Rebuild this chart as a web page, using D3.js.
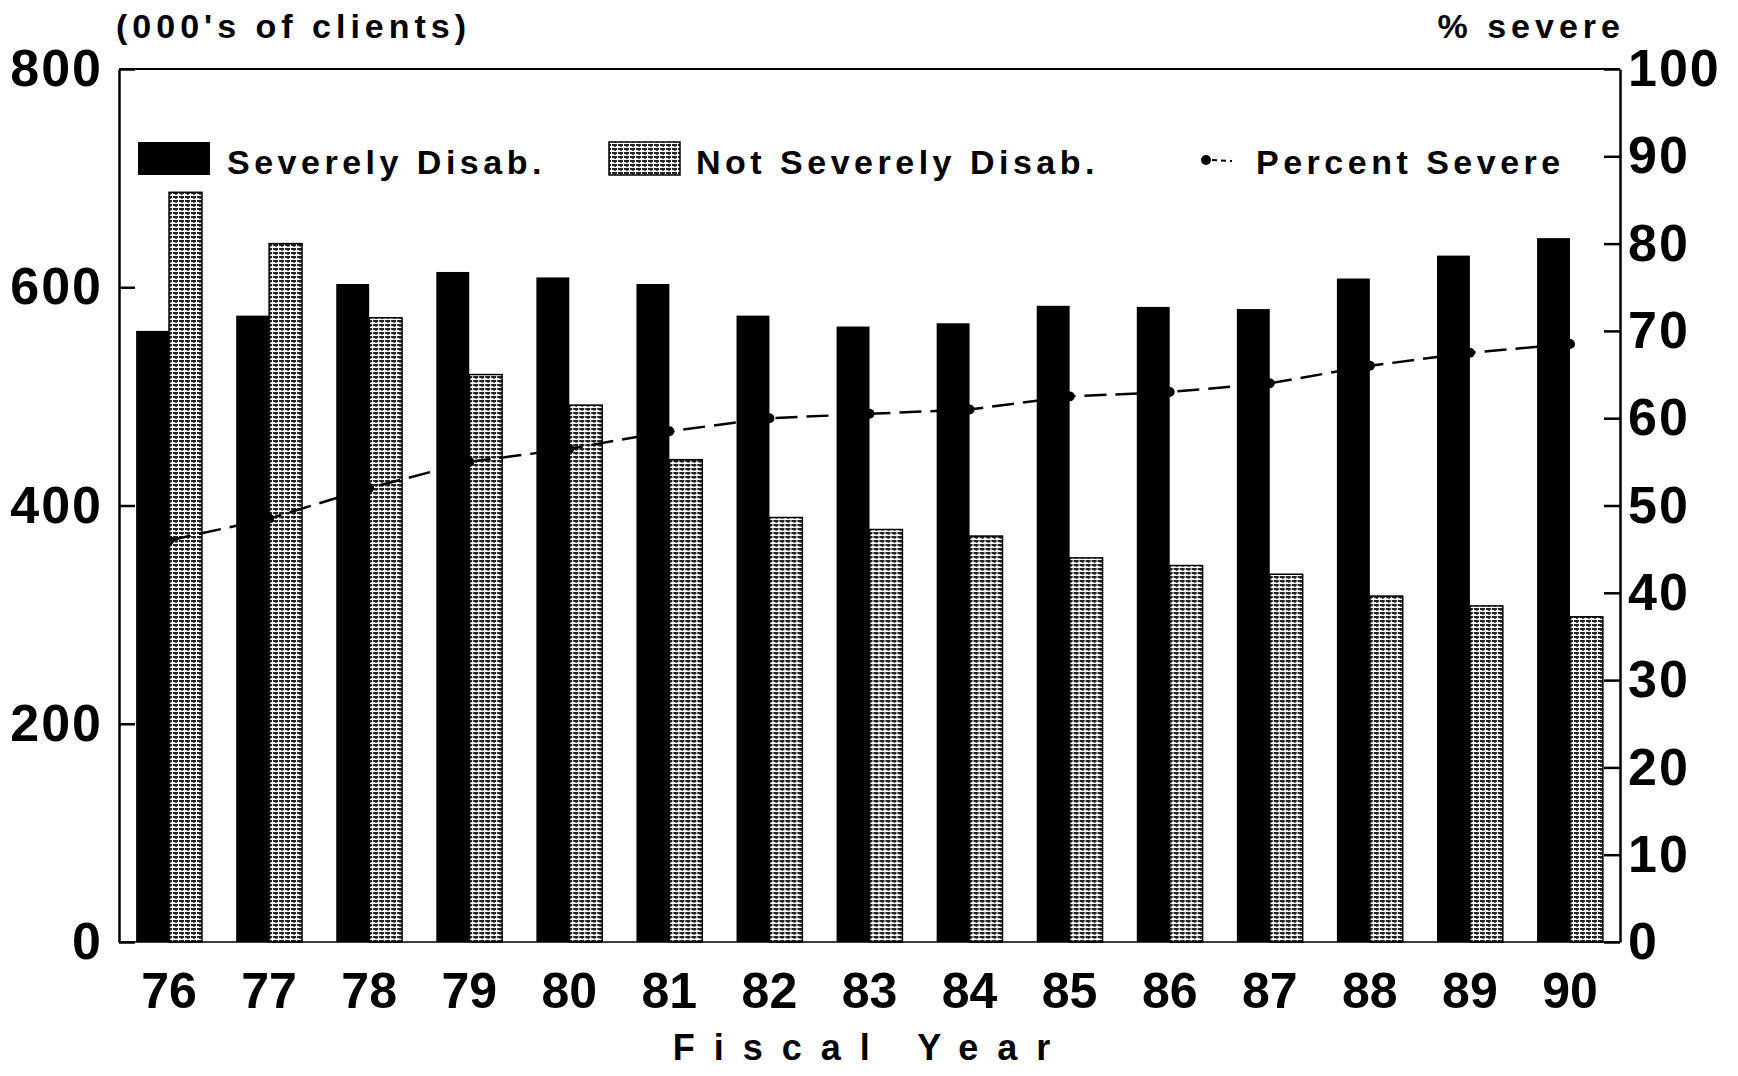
<!DOCTYPE html>
<html>
<head>
<meta charset="utf-8">
<script src="https://cdn.jsdelivr.net/npm/d3@7"></script>
<style>
  body { margin: 0; background: #fff; }
  text { font-family: "Liberation Sans", Arial, sans-serif; font-weight: bold; fill: #000; }
</style>
</head>
<body>
<svg width="1738" height="1076"></svg>
<script>
// Data
const years = ["76", "77", "78", "79", "80", "81", "82", "83", "84", "85", "86", "87", "88", "89", "90"];
const severe = [560, 574, 603, 614, 609, 603, 574, 564, 567, 583, 582, 580, 608, 629, 645];
const notSevere = [687, 640, 572, 520, 492, 442, 389, 378, 372, 352, 345, 337, 317, 308, 298];
const pctSevere = [46, 48.5, 52, 55, 56.5, 58.5, 60, 60.5, 61, 62.5, 63, 64, 66, 67.5, 68.5];
const leftTicks = [0, 200, 400, 600, 800];
const rightTicks = [0, 10, 20, 30, 40, 50, 60, 70, 80, 90, 100];
const series = ["sev", "not"];

const svg = d3.select("svg");
const margin = { left: 119, right: 1620, top: 69, bottom: 942 };

// hatch pattern for "not severely"
const defs = svg.append("defs");
const pat = defs
  .append("pattern")
  .attr("id", "hatch")
  .attr("patternUnits", "userSpaceOnUse")
  .attr("width", 6)
  .attr("height", 4);
pat.append("rect").attr("width", 6).attr("height", 4).attr("fill", "#fff");
pat.append("rect").attr("x", 0).attr("y", 0).attr("width", 5).attr("height", 2).attr("fill", "#222");
pat.append("rect").attr("x", 2).attr("y", 2).attr("width", 2).attr("height", 1).attr("fill", "#555");

const x = d3.scaleBand().domain(years).range([margin.left, margin.right]).padding(0);
const xs = d3.scaleBand().domain(series).range([0, x.bandwidth()]).paddingInner(0).paddingOuter(0.52);
const yL = d3.scaleLinear().domain([0, 800]).range([margin.bottom, margin.top]);
const yR = d3.scaleLinear().domain([0, 100]).range([margin.bottom, margin.top]);

// Bars
const groups = svg
  .append("g")
  .selectAll("g")
  .data(years)
  .enter()
  .append("g")
  .attr("transform", (d) => `translate(${x(d)},0)`);

groups
  .append("rect")
  .attr("x", xs("sev"))
  .attr("y", (d, i) => yL(severe[i]))
  .attr("width", xs.bandwidth())
  .attr("height", (d, i) => yL(0) - yL(severe[i]))
  .attr("fill", "#000");

groups
  .append("rect")
  .attr("x", xs("not"))
  .attr("y", (d, i) => yL(notSevere[i]))
  .attr("width", xs.bandwidth())
  .attr("height", (d, i) => yL(0) - yL(notSevere[i]))
  .attr("fill", "url(#hatch)")
  .attr("stroke", "#000")
  .attr("stroke-width", 1.5);

// Percent severe line
const line = d3
  .line()
  .x((d, i) => x(years[i]) + x.bandwidth() / 2)
  .y((d) => yR(d));

svg
  .append("path")
  .datum(pctSevere)
  .attr("d", line)
  .attr("fill", "none")
  .attr("stroke", "#000")
  .attr("stroke-width", 2.5)
  .attr("stroke-dasharray", "22,9");

svg
  .append("g")
  .selectAll("circle")
  .data(pctSevere)
  .enter()
  .append("circle")
  .attr("cx", (d, i) => x(years[i]) + x.bandwidth() / 2)
  .attr("cy", (d) => yR(d))
  .attr("r", 5)
  .attr("fill", "#000");

// Frame
svg
  .append("line")
  .attr("x1", margin.left).attr("x2", margin.right)
  .attr("y1", margin.top).attr("y2", margin.top)
  .attr("stroke", "#000").attr("stroke-width", 2);
svg
  .append("line")
  .attr("x1", margin.left).attr("x2", margin.right)
  .attr("y1", margin.bottom).attr("y2", margin.bottom)
  .attr("stroke", "#000").attr("stroke-width", 1.5);

// Axes
const leftAxis = d3.axisLeft(yL).tickValues(leftTicks).tickSizeInner(-16).tickSizeOuter(0).tickPadding(16);
const gL = svg.append("g").attr("transform", `translate(${margin.left},0)`).call(leftAxis);
const rightAxis = d3.axisRight(yR).tickValues(rightTicks).tickSizeInner(-16).tickSizeOuter(0).tickPadding(8);
const gR = svg.append("g").attr("transform", `translate(${margin.right},0)`).call(rightAxis);

[gL, gR].forEach((g) => {
  g.select(".domain").attr("stroke", "#000").attr("stroke-width", 2.5);
  g.selectAll(".tick line").attr("stroke", "#000").attr("stroke-width", 2.5);
  g.selectAll(".tick text")
    .attr("font-size", 52)
    .attr("letter-spacing", 2)
    .attr("font-family", "Liberation Sans, Arial, sans-serif")
    .attr("font-weight", "bold")
    .attr("fill", "#000");
});

// X labels
svg
  .append("g")
  .selectAll("text")
  .data(years)
  .enter()
  .append("text")
  .attr("x", (d) => x(d) + x.bandwidth() / 2)
  .attr("y", 1008)
  .attr("text-anchor", "middle")
  .attr("font-size", 50)
  .text((d) => d);

svg
  .append("text")
  .attr("x", 871)
  .attr("y", 1060)
  .attr("text-anchor", "middle")
  .attr("font-size", 36)
  .attr("letter-spacing", 19)
  .text("Fiscal Year");

// Axis titles
svg
  .append("text")
  .attr("x", 116)
  .attr("y", 38)
  .attr("font-size", 34)
  .attr("letter-spacing", 5)
  .text("(000's of clients)");

svg
  .append("text")
  .attr("x", 1625)
  .attr("y", 38)
  .attr("text-anchor", "end")
  .attr("font-size", 34)
  .attr("letter-spacing", 5)
  .text("% severe");

// Legend
const legend = svg.append("g").attr("id", "legend");
legend.append("rect").attr("x", 138).attr("y", 142).attr("width", 72).attr("height", 33).attr("fill", "#000");
legend.append("text").attr("x", 227).attr("y", 174).attr("font-size", 34).attr("letter-spacing", 4.5).text("Severely Disab.");
legend
  .append("rect")
  .attr("x", 609).attr("y", 142).attr("width", 71).attr("height", 33)
  .attr("fill", "url(#hatch)").attr("stroke", "#000").attr("stroke-width", 1.5);
legend.append("text").attr("x", 696).attr("y", 174).attr("font-size", 34).attr("letter-spacing", 4.5).text("Not Severely Disab.");
legend.append("circle").attr("cx", 1206).attr("cy", 160).attr("r", 5).attr("fill", "#000");
legend
  .append("line")
  .attr("x1", 1212).attr("x2", 1232).attr("y1", 160).attr("y2", 161)
  .attr("stroke", "#000").attr("stroke-width", 2).attr("stroke-dasharray", "5,4");
legend.append("text").attr("x", 1256).attr("y", 174).attr("font-size", 34).attr("letter-spacing", 4.5).text("Percent Severe");
</script>
</body>
</html>
